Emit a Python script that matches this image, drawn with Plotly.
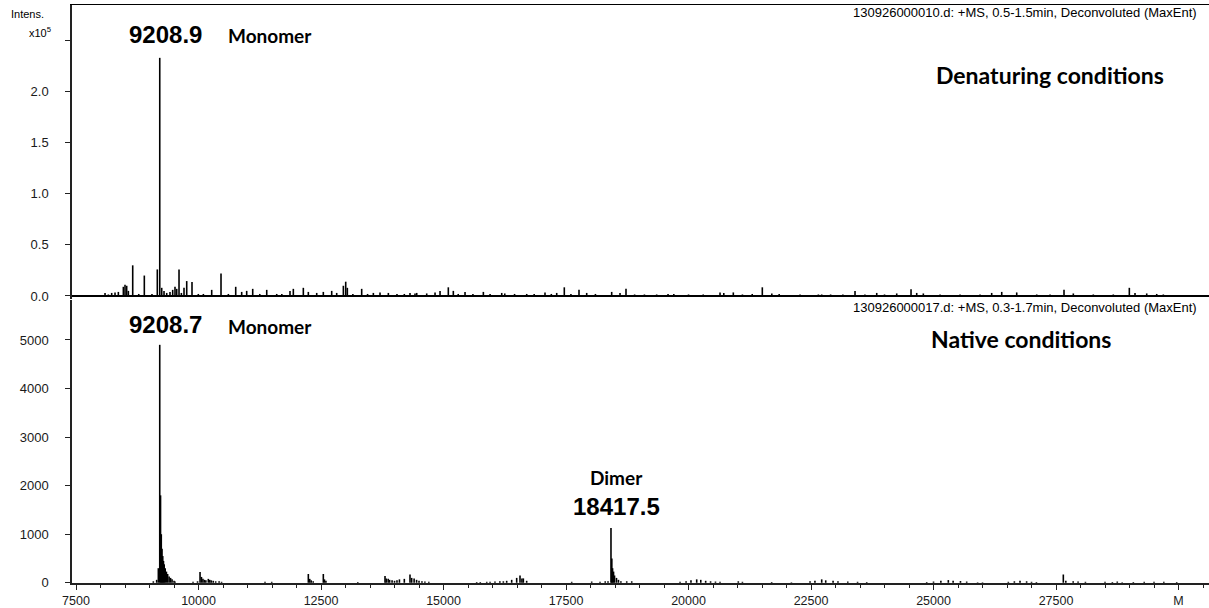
import plotly.graph_objects as go

# ---------------- data ----------------
# Denaturing conditions (intensity in units of 1e5)
den_mass = [8092, 8160, 8228, 8296, 8364, 8466, 8500, 8534, 8568, 8657, 8780, 8894, 9050, 9159,
            9208.9, 9249, 9296, 9351, 9418, 9473, 9520, 9555, 9602, 9650, 9704, 9759, 9867, 9996,
            10099, 10269, 10459, 10609, 10759, 10881, 10983, 11106, 11250, 11392, 11596, 11700,
            11867, 11935, 12139, 12241, 12412, 12547, 12718, 12820, 12956, 13004, 13037, 13150,
            13330, 13450, 13568, 13704, 13874, 14050, 14200, 14316, 14418, 14453, 14657, 14827,
            14929, 15098, 15200, 15300, 15439, 15600, 15813, 15950, 16188, 16250, 16450, 16698,
            16850, 17071, 17200, 17310, 17465, 17600, 17765, 17922, 18100, 18432, 18602, 18724,
            18900, 19100, 19350, 19582, 19700, 20000, 20300, 20643, 20720, 20914, 21100, 21300,
            21506, 21700, 21850, 21969, 22276, 22650, 22718, 22900, 23150, 23398, 23600, 23841,
            24000, 24249, 24541, 24657, 24792, 25133, 25541, 25949, 26187, 26392, 26698, 27106,
            27378, 27663, 27853, 28261, 28669, 28996, 29112, 29351, 29555, 29690, 29929]
den_int = [0.03, 0.015, 0.03, 0.035, 0.04, 0.09, 0.11, 0.10, 0.05, 0.30, 0.02, 0.20, 0.02, 0.26,
           2.33, 0.08, 0.05, 0.03, 0.04, 0.06, 0.09, 0.07, 0.26, 0.03, 0.08, 0.146, 0.136, 0.02,
           0.02, 0.06, 0.22, 0.02, 0.09, 0.04, 0.05, 0.07, 0.02, 0.06, 0.02, 0.02,
           0.05, 0.07, 0.08, 0.04, 0.03, 0.04, 0.05, 0.03, 0.10, 0.14, 0.08, 0.02,
           0.07, 0.02, 0.03, 0.035, 0.03, 0.02, 0.02, 0.03, 0.025, 0.03, 0.025, 0.035,
           0.05, 0.085, 0.05, 0.02, 0.04, 0.02, 0.04, 0.02, 0.03, 0.025, 0.02, 0.02,
           0.02, 0.035, 0.02, 0.03, 0.085, 0.02, 0.06, 0.03, 0.02, 0.04, 0.03, 0.07,
           0.015, 0.015, 0.015, 0.02, 0.02, 0.015, 0.015, 0.035, 0.03, 0.035, 0.015, 0.02,
           0.085, 0.025, 0.02, 0.01, 0.015, 0.015, 0.015, 0.015, 0.015, 0.05, 0.015, 0.03,
           0.015, 0.025, 0.065, 0.03, 0.025, 0.015, 0.015, 0.015, 0.03, 0.04, 0.035, 0.015,
           0.015, 0.06, 0.025, 0.015, 0.015, 0.08, 0.03, 0.025, 0.02, 0.015, 0.01]

# Native conditions (intensity in counts)
nat_mass = [9078, 9146, 9180, 9208.7, 9225, 9240, 9255, 9270, 9285, 9300, 9320, 9345, 9370, 9400,
            9430, 9460, 9500, 9520, 9888, 9980, 10031, 10060, 10090, 10120, 10150, 10200, 10230,
            10260, 10300, 10350, 10420, 10470, 11357, 11494, 12241, 12270, 12300, 12340, 12547,
            12570, 12600, 13250, 13806, 13830, 13870, 13900, 13950, 14000, 14050, 14100, 14200,
            14316, 14350, 14400, 14450, 14500, 14560, 14620, 14700, 15677, 15750, 15882, 15950,
            16050, 16150, 16221, 16289, 16391, 16493, 16561, 16600, 16629, 16697, 17616, 18024,
            18194, 18300, 18357, 18417.5, 18435, 18450, 18470, 18490, 18530, 18570, 18620, 18739,
            18841, 19827, 19950, 20050, 20167, 20250, 20350, 20450, 20550, 20643, 21016, 21100,
            21697, 22100, 22480, 22580, 22718, 22800, 22950, 23050, 23250, 23450, 23637, 24861,
            25000, 25150, 25302, 25400, 25550, 25677, 25900, 26000, 26527, 26650, 26765, 26900,
            27000, 27100, 27649, 27700, 27850, 27950, 28100, 28500, 28650, 28750, 28850, 29078,
            29300, 29500, 29700, 29963]
nat_int = [30, 60, 300, 4900, 1800, 1000, 700, 550, 450, 380, 300, 230, 180, 130,
           100, 70, 40, 25, 20, 30, 220, 120, 80, 60, 50, 80, 60,
           50, 40, 30, 30, 20, 20, 20, 180, 80, 50, 30, 180,
           70, 40, 15, 140, 90, 80, 60, 50, 40, 50, 70, 80,
           170, 100, 90, 60, 40, 30, 25, 20, 15, 15, 20, 20,
           25, 30, 30, 40, 60, 100, 150, 90, 90, 40, 20, 25,
           20, 30, 30, 1130, 500, 300, 230, 150, 100, 60, 30, 30,
           30, 20, 30, 50, 70, 60, 40, 30, 25, 20, 30, 20,
           15, 10, 30, 40, 70, 50, 40, 30, 25, 20, 15, 15,
           25, 40, 55, 40, 35, 25, 10, 10, 20, 30, 40, 30,
           20, 15, 170, 40, 30, 25, 20, 20, 15, 25, 10, 15,
           20, 20, 20, 15]

x_tickvals = [7500, 10000, 12500, 15000, 17500, 20000, 22500, 25000, 27500, 30000]
x_ticktext = ["7500", "10000", "12500", "15000", "17500", "20000", "22500", "25000", "27500", "M"]
top_tickvals = [0, 0.5, 1.0, 1.5, 2.0]
top_ticktext = ["0.0", "0.5", "1.0", "1.5", "2.0"]
top_minor_ticks = [2.5]
bot_tickvals = [0, 1000, 2000, 3000, 4000, 5000]
bot_ticktext = ["0", "1000", "2000", "3000", "4000", "5000"]

header_top = "130926000010.d: +MS, 0.5-1.5min, Deconvoluted (MaxEnt)"
header_bot = "130926000017.d: +MS, 0.3-1.7min, Deconvoluted (MaxEnt)"


# ---------------- helpers ----------------
def sticks(masses, heights):
    xs, ys = [], []
    for m, h in zip(masses, heights):
        xs += [m, m, None]
        ys += [0, h, None]
    return xs, ys


W, H = 1209, 608
ML, MR, MT, MB = 72, 0, 5, 25
PW, PH = W - ML - MR, H - MT - MB


def px(x):
    return (x - ML) / PW


def py(y):
    return (H - MB - y) / PH


AX = "#222222"
NUM_FONT = "Liberation Sans, Arial, sans-serif"
LBL_FONT = "Lato, Carlito, Calibri, sans-serif"

fig = go.Figure()
dx, dy = sticks(den_mass, den_int)
fig.add_trace(go.Scatter(x=dx, y=dy, mode="lines", line=dict(color="black", width=1.6),
                         xaxis="x", yaxis="y", showlegend=False, hoverinfo="skip"))
nx, ny = sticks(nat_mass, nat_int)
fig.add_trace(go.Scatter(x=nx, y=ny, mode="lines", line=dict(color="black", width=1.6),
                         xaxis="x2", yaxis="y2", showlegend=False, hoverinfo="skip"))

xrange = [7418, 30622]
top_dom = [py(299), 1.0]
bot_dom = [0.0, py(300)]

fig.update_layout(
    width=W, height=H,
    margin=dict(l=ML, r=MR, t=MT, b=MB, autoexpand=False),
    paper_bgcolor="white", plot_bgcolor="white",
    showlegend=False,
    xaxis=dict(domain=[0, 1], range=xrange, anchor="y", side="top",
               showline=True, linecolor="black", linewidth=1.2,
               ticks="", showticklabels=False, showgrid=False, zeroline=False),
    yaxis=dict(domain=top_dom, range=[-0.0294, 2.847], anchor="x",
               showline=True, linecolor=AX, linewidth=1.5,
               ticks="outside", ticklen=5, tickwidth=1.2, tickcolor=AX,
               tickvals=top_tickvals, ticktext=top_ticktext,
               minor=dict(tickmode="array", tickvals=top_minor_ticks, ticks="outside",
                          ticklen=5, tickwidth=1.2, tickcolor=AX),
               tickfont=dict(family=NUM_FONT, size=13, color="#1a1a1a"),
               ticklabelstandoff=14,
               showgrid=False, zeroline=True, zerolinecolor="black", zerolinewidth=2.2),
    xaxis2=dict(domain=[0, 1], range=xrange, anchor="y2",
                showline=True, linecolor=AX, linewidth=1.5,
                ticks="outside", ticklen=5, tickwidth=1.2, tickcolor=AX,
                tickvals=x_tickvals, ticktext=x_ticktext,
                tickfont=dict(family=NUM_FONT, size=12.5, color="#1a1a1a"),
                ticklabelstandoff=0,
                minor=dict(tickmode="linear", tick0=7500, dtick=500, ticks="outside",
                           ticklen=3, tickwidth=1, tickcolor=AX),
                showgrid=False, zeroline=False),
    yaxis2=dict(domain=bot_dom, range=[-5, 5823], anchor="x2",
                showline=True, linecolor=AX, linewidth=1.5,
                ticks="outside", ticklen=5, tickwidth=1.2, tickcolor=AX,
                tickvals=bot_tickvals, ticktext=bot_ticktext,
                tickfont=dict(family=NUM_FONT, size=13, color="#1a1a1a"),
                ticklabelstandoff=14,
                showgrid=False, zeroline=False),
)


def ann(text, x, y, size, family, bold=False, xanchor="center"):
    t = f"<b>{text}</b>" if bold else text
    fig.add_annotation(text=t, x=px(x), y=py(y), xref="paper", yref="paper",
                       xanchor=xanchor, yanchor="middle", showarrow=False,
                       font=dict(family=family, size=size, color="black"))


ann("Intens.", 27, 14, 11, NUM_FONT)
ann("x10<sup>5</sup>", 40, 32, 11, NUM_FONT)
ann(header_top, 1199, 13, 13, NUM_FONT, xanchor="right")
ann(header_bot, 1199, 307, 13, NUM_FONT, xanchor="right")
ann("9208.9", 165, 34, 24, NUM_FONT, bold=True)
ann("Monomer", 270, 35, 19, LBL_FONT, bold=True)
ann("Denaturing conditions", 1050, 75, 23, LBL_FONT, bold=True)
ann("9208.7", 165, 324, 24, NUM_FONT, bold=True)
ann("Monomer", 270, 326, 19, LBL_FONT, bold=True)
ann("Native conditions", 1021, 339, 23, LBL_FONT, bold=True)
ann("Dimer", 616, 477, 19, LBL_FONT, bold=True)
ann("18417.5", 616, 506, 24, NUM_FONT, bold=True)

fig.write_html("out.html",
               config={"displayModeBar": False},
               post_script="document.body.style.margin='0';document.body.style.padding='0';")
